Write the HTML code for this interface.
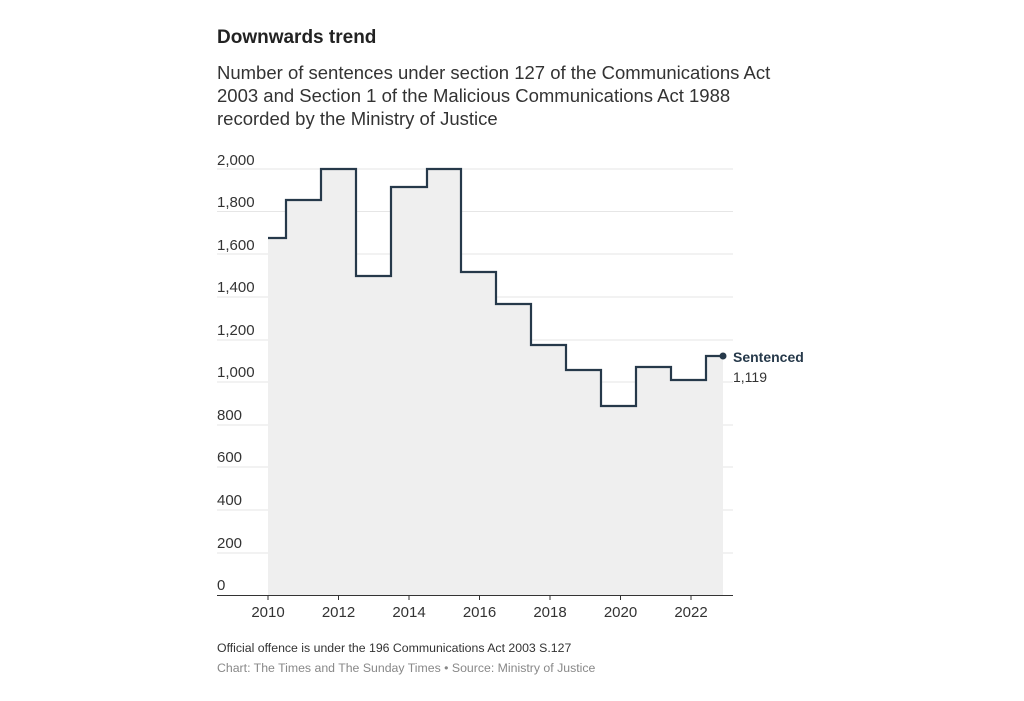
<!DOCTYPE html>
<html><head><meta charset="utf-8"><style>
body{margin:0;background:#fff;width:1024px;height:696px;overflow:hidden;font-family:"Liberation Sans",sans-serif;}
</style></head><body>
<svg width="1024" height="696" xmlns="http://www.w3.org/2000/svg" font-family="Liberation Sans, sans-serif">
<text x="217" y="43" font-size="19" font-weight="bold" fill="#222">Downwards trend</text>
<text font-size="18.5" fill="#333"><tspan x="217" y="79">Number of sentences under section 127 of the Communications Act</tspan><tspan x="217" y="102">2003 and Section 1 of the Malicious Communications Act 1988</tspan><tspan x="217" y="125">recorded by the Ministry of Justice</tspan></text>
<g stroke="#e6e6e6" stroke-width="1">
<line x1="217" x2="733" y1="169" y2="169"/><line x1="217" x2="733" y1="211.5" y2="211.5"/><line x1="217" x2="733" y1="254" y2="254"/><line x1="217" x2="733" y1="297" y2="297"/><line x1="217" x2="733" y1="340" y2="340"/><line x1="217" x2="733" y1="382" y2="382"/><line x1="217" x2="733" y1="425" y2="425"/><line x1="217" x2="733" y1="467" y2="467"/><line x1="217" x2="733" y1="510" y2="510"/><line x1="217" x2="733" y1="553" y2="553"/>
</g>
<g font-size="15" fill="#333">
<text x="217" y="165">2,000</text><text x="217" y="207">1,800</text><text x="217" y="250">1,600</text><text x="217" y="292">1,400</text><text x="217" y="335">1,200</text><text x="217" y="377">1,000</text><text x="217" y="420">800</text><text x="217" y="462">600</text><text x="217" y="505">400</text><text x="217" y="548">200</text><text x="217" y="590">0</text>
</g>
<path d="M268,595 L268,238 H286 V200 H321 V169 H356 V276 H391 V187 H427 V169 H461 V272 H496 V304 H531 V345 H566 V370 H601 V406 H636 V367 H671 V380 H706 V356 H723 V595 Z" fill="#efefef"/>
<path d="M268,238 H286 V200 H321 V169 H356 V276 H391 V187 H427 V169 H461 V272 H496 V304 H531 V345 H566 V370 H601 V406 H636 V367 H671 V380 H706 V356 H723" fill="none" stroke="#26394a" stroke-width="2.2"/>
<circle cx="723" cy="356" r="3.5" fill="#26394a"/>
<line x1="217" x2="733" y1="595.5" y2="595.5" stroke="#333" stroke-width="1"/>
<g stroke="#333"><line x1="268" x2="268" y1="595" y2="600"/><line x1="338.5" x2="338.5" y1="595" y2="600"/><line x1="409" x2="409" y1="595" y2="600"/><line x1="479.5" x2="479.5" y1="595" y2="600"/><line x1="550" x2="550" y1="595" y2="600"/><line x1="620.5" x2="620.5" y1="595" y2="600"/><line x1="691" x2="691" y1="595" y2="600"/></g>
<g font-size="15" fill="#333" text-anchor="middle">
<text x="268" y="617">2010</text><text x="338.5" y="617">2012</text><text x="409" y="617">2014</text><text x="479.5" y="617">2016</text><text x="550" y="617">2018</text><text x="620.5" y="617">2020</text><text x="691" y="617">2022</text>
</g>
<text x="733" y="362" font-size="14" font-weight="bold" fill="#26394a">Sentenced</text>
<text x="733" y="382" font-size="14" fill="#333">1,119</text>
<text x="217" y="652" font-size="12.3" fill="#333">Official offence is under the 196 Communications Act 2003 S.127</text>
<text x="217" y="672" font-size="12.3" fill="#888">Chart: The Times and The Sunday Times • Source: Ministry of Justice</text>
</svg>
</body></html>
